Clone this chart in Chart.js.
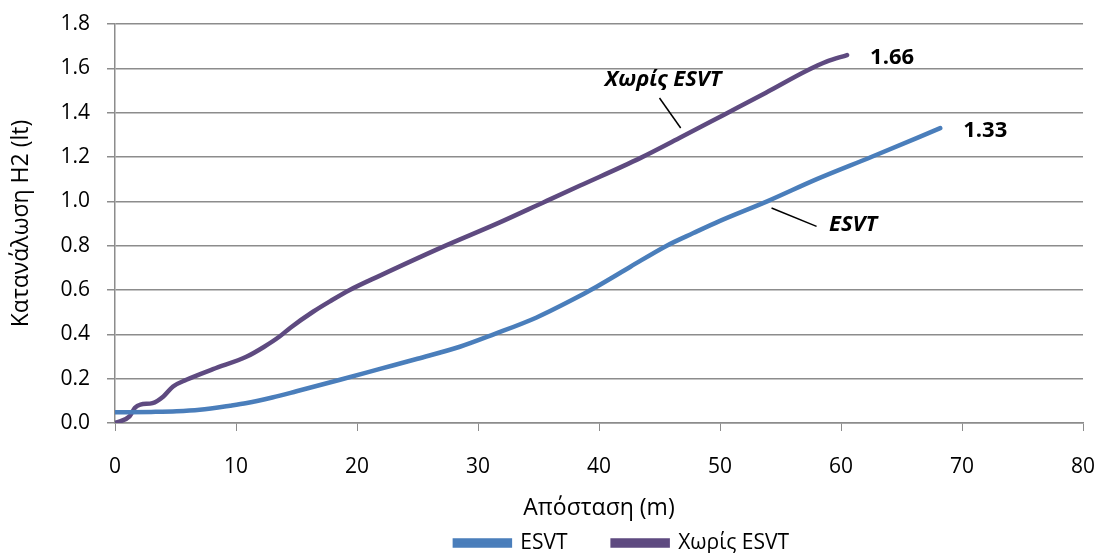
<!DOCTYPE html>
<html>
<head>
<meta charset="utf-8">
<script src="https://cdn.jsdelivr.net/npm/chart.js@4.4.1/dist/chart.umd.min.js"></script>
<style>
  html, body { margin: 0; padding: 0; background: #fff; }
  canvas { display: block; }
</style>
</head>
<body>
<canvas id="fuelChart" width="1098" height="553"></canvas>
<script>
// distance (m) and H2 consumption (lt) for each run
const esvtDistance = [0, 3.0, 5.1, 7.0, 9.5, 10.9, 13.0, 15.0, 18.6, 21.9, 25.0, 28.5, 31.3, 34.8, 37.6, 39.8, 42.6, 45.6, 47.8, 50.0, 53.9, 58.0, 62.5, 68.2];
const esvtConsumption = [0.048, 0.05, 0.053, 0.06, 0.078, 0.09, 0.115, 0.143, 0.195, 0.244, 0.29, 0.344, 0.40, 0.475, 0.55, 0.615, 0.705, 0.80, 0.857, 0.912, 1.00, 1.10, 1.20, 1.33];

const plainDistance = [0, 1.2, 1.65, 2.1, 3.1, 4.0, 4.8, 5.9, 8.1, 10.9, 12.3, 13.6, 14.5, 16.4, 17.8, 19.4, 21.9, 26.9, 31.8, 35.4, 38.4, 43.4, 46.8, 50.3, 53.8, 57.2, 58.8, 60.5];
const plainConsumption = [0, 0.03, 0.069, 0.083, 0.09, 0.12, 0.165, 0.195, 0.243, 0.30, 0.343, 0.39, 0.43, 0.503, 0.55, 0.60, 0.665, 0.79, 0.905, 0.995, 1.07, 1.195, 1.29, 1.39, 1.49, 1.59, 1.63, 1.66];

const seriesNames = ['ESVT', 'Χωρίς ESVT'];
const xTicks = [0, 10, 20, 30, 40, 50, 60, 70, 80];
const yTicks = [0, 0.2, 0.4, 0.6, 0.8, 1.0, 1.2, 1.4, 1.6, 1.8];

const blue = '#4A7EBB';
const purple = '#5E4A80';
const axisGray = '#8C8C8C';

function toPoints(xs, ys) {
    return xs.map((x, i) => ({ x: x, y: ys[i] }));
}

// value at the end of each curve plus the italic callouts with their leader lines
const calloutPlugin = {
    id: 'callouts',
    afterLayout(chart) {
        // legend sits a little right of the plot centre
        chart.legend.left += 23;
        chart.legend.right += 23;
    },
    afterDatasetsDraw(chart, args, opts) {
        const { ctx, scales: { x, y } } = chart;
        ctx.save();
        ctx.fillStyle = '#000';
        ctx.textBaseline = 'middle';

        ctx.font = 'bold 22px "Open Sans", sans-serif';
        ctx.textAlign = 'left';
        chart.data.datasets.forEach(ds => {
            const last = ds.data[ds.data.length - 1];
            ctx.fillText(last.y.toFixed(2), x.getPixelForValue(last.x) + 23, y.getPixelForValue(last.y) + 3);
        });

        ctx.font = 'italic bold 22px "Open Sans", sans-serif';
        ctx.textAlign = 'center';
        ctx.strokeStyle = '#000';
        ctx.lineWidth = 1.5;
        opts.items.forEach(c => {
            ctx.fillText(c.text, x.getPixelForValue(c.at[0]), y.getPixelForValue(c.at[1]));
            ctx.beginPath();
            ctx.moveTo(x.getPixelForValue(c.from[0]), y.getPixelForValue(c.from[1]));
            ctx.lineTo(x.getPixelForValue(c.to[0]), y.getPixelForValue(c.to[1]));
            ctx.stroke();
        });
        ctx.restore();
    }
};

Chart.defaults.font.family = '"Open Sans", sans-serif';
Chart.defaults.font.size = 21;
Chart.defaults.color = '#000';

let chartCtx = document.getElementById('fuelChart').getContext('2d');
let fuelChart = new Chart(chartCtx, {
    type: 'scatter',
    data: {
        datasets: [
            {
                label: seriesNames[0],
                data: toPoints(esvtDistance, esvtConsumption),
                borderColor: blue,
                backgroundColor: blue
            },
            {
                label: seriesNames[1],
                data: toPoints(plainDistance, plainConsumption),
                borderColor: purple,
                backgroundColor: purple
            }
        ]
    },
    options: {
        responsive: false,
        animation: false,
        devicePixelRatio: 1,
        showLine: true,
        elements: {
            point: { radius: 0, hoverRadius: 0 },
            line: { borderWidth: 4.5, cubicInterpolationMode: 'monotone', borderCapStyle: 'round' }
        },
        layout: { padding: { left: 0, right: 15, top: 24, bottom: -10.5 } },
        plugins: {
            tooltip: { enabled: false },
            legend: {
                position: 'bottom',
                fullSize: false,
                labels: { boxWidth: 55, boxHeight: 5, padding: 45 }
            },
            callouts: {
                items: [
                    { text: 'Χωρίς ESVT', at: [45.3, 1.55], from: [45.0, 1.466], to: [46.75, 1.331] },
                    { text: 'ESVT', at: [61.0, 0.894], from: [54.26, 0.97], to: [57.98, 0.887] }
                ]
            }
        },
        scales: {
            x: {
                type: 'linear',
                min: xTicks[0],
                max: xTicks[xTicks.length - 1],
                afterBuildTicks: scale => { scale.ticks = xTicks.map(v => ({ value: v })); },
                afterFit: scale => {
                    scale.height = 64.5;
                    scale.paddingLeft = 10;
                    scale.paddingRight = 10;
                },
                grid: { drawOnChartArea: false, color: axisGray, tickLength: 8 },
                border: { color: axisGray, width: 1.5 },
                ticks: { padding: 23, maxRotation: 0 },
                title: { display: true, text: 'Απόσταση (m)', font: { size: 23 }, padding: { top: 0, bottom: -35 } }
            },
            y: {
                min: yTicks[0],
                max: yTicks[yTicks.length - 1],
                afterBuildTicks: scale => { scale.ticks = yTicks.map(v => ({ value: v })); },
                afterFit: scale => {
                    scale.width = 115;
                    scale.paddingTop = 0;
                    scale.paddingBottom = 0;
                },
                grid: { color: axisGray, lineWidth: 1.5, tickLength: 8 },
                border: { color: axisGray, width: 1.5 },
                ticks: { padding: 17, callback: value => value.toFixed(1) },
                title: { display: true, text: 'Κατανάλωση H2 (lt)', font: { size: 23 }, padding: { top: 8, bottom: 0 } }
            }
        }
    },
    plugins: [calloutPlugin]
});
</script>
</body>
</html>
